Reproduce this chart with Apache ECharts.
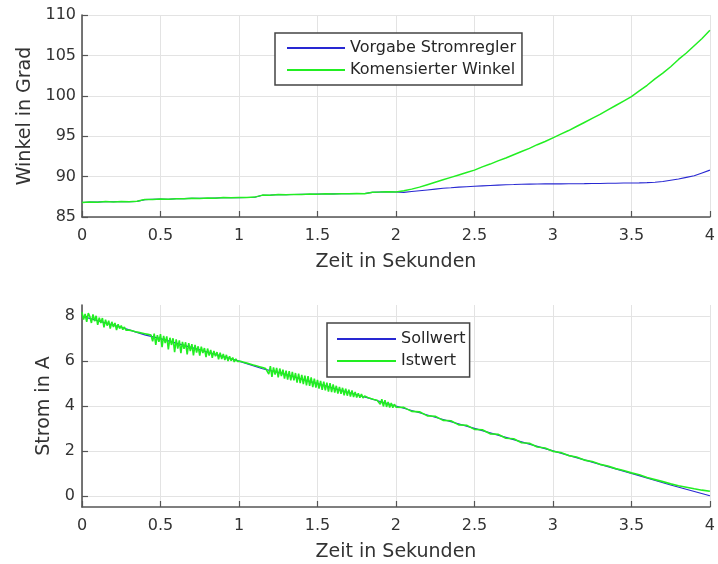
<!DOCTYPE html>
<html>
<head>
<meta charset="utf-8">
<script src="https://cdn.jsdelivr.net/npm/echarts@6/dist/echarts.min.js"></script>
<style>
  html, body { margin: 0; padding: 0; background: #fff; }
  #main { width: 718px; height: 564px; }
</style>
</head>
<body>
<div id="main"></div>
<script>
// oberes Diagramm: Winkel
var tWinkel = [0.00,0.05,0.10,0.15,0.20,0.25,0.30,0.35,0.40,0.45,0.50,0.55,0.60,0.65,0.70,0.75,0.80,0.85,0.90,0.95,
  1.00,1.05,1.10,1.15,1.20,1.25,1.30,1.35,1.40,1.45,1.50,1.55,1.60,1.65,1.70,1.75,1.80,1.85,1.90,1.95,
  2.00,2.05,2.10,2.15,2.20,2.25,2.30,2.35,2.40,2.45,2.50,2.55,2.60,2.65,2.70,2.75,2.80,2.85,2.90,2.95,
  3.00,3.05,3.10,3.15,3.20,3.25,3.30,3.35,3.40,3.45,3.50,3.55,3.60,3.65,3.70,3.75,3.80,3.85,3.90,3.95,4.00];
var vorgabe = [86.80,86.85,86.85,86.90,86.88,86.90,86.90,86.92,87.15,87.20,87.22,87.20,87.25,87.28,87.30,87.30,87.32,87.35,87.38,87.40,
  87.40,87.42,87.45,87.70,87.72,87.75,87.75,87.78,87.80,87.82,87.85,87.85,87.86,87.87,87.88,87.90,87.90,88.05,88.10,88.12,
  88.10,88.05,88.15,88.25,88.35,88.45,88.55,88.62,88.70,88.75,88.80,88.85,88.90,88.95,89.00,89.02,89.05,89.07,89.08,89.10,
  89.10,89.10,89.12,89.12,89.13,89.15,89.15,89.17,89.18,89.20,89.20,89.22,89.25,89.30,89.40,89.55,89.70,89.90,90.10,90.45,90.80];
var kompensiert = [86.78,86.86,86.83,86.91,86.87,86.92,86.89,86.94,87.17,87.18,87.24,87.19,87.27,87.26,87.32,87.28,87.34,87.33,87.40,87.38,
  87.42,87.40,87.46,87.71,87.70,87.77,87.74,87.80,87.78,87.84,87.83,87.87,87.85,87.89,87.87,87.91,87.89,88.06,88.09,88.13,
  88.10,88.25,88.45,88.70,89.00,89.30,89.60,89.90,90.20,90.50,90.80,91.20,91.55,91.95,92.30,92.70,93.10,93.50,93.95,94.35,
  94.80,95.25,95.70,96.20,96.70,97.20,97.70,98.25,98.80,99.35,99.90,100.60,101.30,102.10,102.80,103.60,104.50,105.30,106.20,107.10,108.10];

// unteres Diagramm: Strom
var tSoll = [0,0.25,0.40,0.50,0.75,1.00,1.15,1.25,1.50,1.75,2.00,2.25,2.50,2.75,3.00,3.25,3.50,3.75,4.00];
var sollwert = [8.00,7.50,7.17,7.00,6.50,6.00,5.66,5.50,5.00,4.50,4.00,3.50,3.00,2.50,2.00,1.50,1.00,0.48,0.00];
var tIst = [
  0.00,0.01,0.02,0.03,0.04,0.05,0.06,0.07,0.08,0.09,0.10,0.11,0.12,0.13,0.14,0.15,0.16,0.17,0.18,0.19,
  0.20,0.21,0.22,0.23,0.24,0.25,0.26,0.27,0.28,0.29,0.30,0.31,0.32,0.33,0.34,0.35,0.36,0.37,0.38,0.39,
  0.40,0.41,0.42,0.43,0.44,0.45,0.46,0.47,0.48,0.49,0.50,0.51,0.52,0.53,0.54,0.55,0.56,0.57,0.58,0.59,
  0.60,0.61,0.62,0.63,0.64,0.65,0.66,0.67,0.68,0.69,0.70,0.71,0.72,0.73,0.74,0.75,0.76,0.77,0.78,0.79,
  0.80,0.81,0.82,0.83,0.84,0.85,0.86,0.87,0.88,0.89,0.90,0.91,0.92,0.93,0.94,0.95,0.96,0.97,0.98,0.99,
  1.00,1.01,1.02,1.03,1.04,1.05,1.06,1.07,1.08,1.09,1.10,1.11,1.12,1.13,1.14,1.15,1.16,1.17,1.18,1.19,
  1.20,1.21,1.22,1.23,1.24,1.25,1.26,1.27,1.28,1.29,1.30,1.31,1.32,1.33,1.34,1.35,1.36,1.37,1.38,1.39,
  1.40,1.41,1.42,1.43,1.44,1.45,1.46,1.47,1.48,1.49,1.50,1.51,1.52,1.53,1.54,1.55,1.56,1.57,1.58,1.59,
  1.60,1.61,1.62,1.63,1.64,1.65,1.66,1.67,1.68,1.69,1.70,1.71,1.72,1.73,1.74,1.75,1.76,1.77,1.78,1.79,
  1.80,1.81,1.82,1.83,1.84,1.85,1.86,1.87,1.88,1.89,1.90,1.91,1.92,1.93,1.94,1.95,1.96,1.97,1.98,1.99,
  2.00,
  2.05,2.10,2.15,2.20,2.25,2.30,2.35,2.40,2.45,2.50,2.55,2.60,2.65,2.70,2.75,2.80,2.85,2.90,2.95,3.00,
  3.05,3.10,3.15,3.20,3.25,3.30,3.35,3.40,3.45,3.50,3.55,3.60,3.65,3.70,3.75,3.80,3.85,3.90,3.95,4.00];
var istwert = [
  8.18,7.85,8.10,7.75,8.14,7.98,7.70,8.08,7.78,8.02,7.62,7.93,7.70,7.92,7.50,7.85,7.58,7.80,7.45,7.75,
  7.52,7.70,7.38,7.64,7.45,7.58,7.40,7.52,7.38,7.46,7.38,7.39,7.35,7.35,7.31,7.31,7.28,7.27,7.25,7.23,
  7.22,7.20,7.19,7.17,7.16,6.88,7.22,6.72,7.16,6.86,7.20,6.62,7.12,6.80,7.10,6.52,7.04,6.72,7.02,6.40,
  6.97,6.56,6.92,6.35,6.86,6.55,6.84,6.30,6.80,6.45,6.76,6.26,6.72,6.38,6.66,6.25,6.64,6.36,6.58,6.18,
  6.56,6.25,6.50,6.15,6.45,6.22,6.40,6.08,6.37,6.09,6.32,6.05,6.28,6.00,6.22,6.02,6.16,5.96,6.10,5.99,
  6.03,5.99,5.97,5.95,5.93,5.91,5.89,5.87,5.85,5.83,5.81,5.79,5.77,5.75,5.73,5.71,5.69,5.67,5.74,5.42,
  5.78,5.30,5.72,5.40,5.70,5.28,5.67,5.33,5.62,5.22,5.58,5.18,5.55,5.14,5.52,5.14,5.47,5.04,5.44,5.02,
  5.39,4.97,5.35,4.92,5.33,4.90,5.27,4.84,5.22,4.82,5.16,4.77,5.12,4.72,5.08,4.70,5.04,4.64,5.02,4.62,
  4.96,4.60,4.90,4.55,4.85,4.54,4.81,4.48,4.77,4.46,4.73,4.42,4.69,4.40,4.62,4.38,4.57,4.37,4.53,4.36,
  4.45,4.37,4.38,4.35,4.33,4.31,4.29,4.28,4.26,4.25,4.08,4.30,3.98,4.26,3.96,4.18,3.93,4.13,3.92,4.08,
  3.95,
  3.94,3.76,3.74,3.56,3.54,3.36,3.34,3.16,3.14,2.96,2.94,2.76,2.74,2.56,2.54,2.36,2.34,2.17,2.13,1.98,
  1.93,1.79,1.73,1.59,1.53,1.40,1.33,1.21,1.13,1.02,0.94,0.81,0.72,0.63,0.53,0.45,0.38,0.31,0.25,0.20];

var xTicks = [0, 0.5, 1, 1.5, 2, 2.5, 3, 3.5, 4];
var stromTicks = [0, 2, 4, 6, 8];

var blau = '#2828d2';
var gruen = '#22ee22';
var textFarbe = '#333333';
var achsFarbe = '#555555';
var gitterFarbe = '#e3e3e3';
var schrift = '"DejaVu Sans", sans-serif';

function pairs(t, v) {
  return t.map(function (x, i) { return [x, v[i]]; });
}

function xAchse(idx) {
  return {
    type: 'value', gridIndex: idx, min: 0, max: 4, interval: 0.5,
    name: 'Zeit in Sekunden', nameLocation: 'middle', nameGap: 36,
    nameTextStyle: { fontSize: 19, color: textFarbe, fontFamily: schrift },
    axisLine: { show: true, onZero: false, lineStyle: { color: achsFarbe, width: 1.6 } },
    axisTick: { show: true, inside: true, length: 6, lineStyle: { color: achsFarbe, width: 1.2 } },
    axisLabel: { fontSize: 16, color: textFarbe, fontFamily: schrift, margin: 11 },
    splitLine: { show: true, lineStyle: { color: gitterFarbe, width: 1 } }
  };
}

var chart = echarts.init(document.getElementById('main'));
var option = {
  animation: false,
  backgroundColor: '#fff',
  grid: [
    { left: 82, top: 15, width: 631, height: 202 },
    { left: 82, top: 305, width: 631, height: 202 }
  ],
  legend: [
    {
      data: ['Vorgabe Stromregler', 'Komensierter Winkel'],
      orient: 'vertical', left: 275, top: 33,
      icon: 'rect', itemWidth: 58, itemHeight: 2, itemGap: 6,
      padding: [7, 6, 7, 12],
      borderColor: '#444', borderWidth: 1.5, backgroundColor: '#fff',
      textStyle: { fontSize: 16, color: '#262626', fontFamily: schrift, lineHeight: 16 }
    },
    {
      data: ['Sollwert', 'Istwert'],
      orient: 'vertical', left: 327, top: 323,
      icon: 'rect', itemWidth: 59, itemHeight: 2, itemGap: 6,
      padding: [8, 4, 8, 10],
      borderColor: '#444', borderWidth: 1.5, backgroundColor: '#fff',
      textStyle: { fontSize: 16, color: '#262626', fontFamily: schrift, lineHeight: 16 }
    }
  ],
  xAxis: [xAchse(0), xAchse(1)],
  yAxis: [
    {
      type: 'value', gridIndex: 0, min: 85, max: 110, interval: 5,
      name: 'Winkel in Grad', nameLocation: 'middle', nameGap: 46,
      nameTextStyle: { fontSize: 19, color: textFarbe, fontFamily: schrift },
      axisLine: { show: true, lineStyle: { color: achsFarbe, width: 1.6 } },
      axisTick: { show: true, inside: true, length: 6, lineStyle: { color: achsFarbe, width: 1.2 } },
      axisLabel: { fontSize: 16, color: textFarbe, fontFamily: schrift, margin: 6 },
      splitLine: { show: true, lineStyle: { color: gitterFarbe, width: 1 } }
    },
    {
      type: 'value', gridIndex: 1, min: -0.5, max: 8.5,
      name: 'Strom in A', nameLocation: 'middle', nameGap: 28,
      nameTextStyle: { fontSize: 19, color: textFarbe, fontFamily: schrift },
      axisLine: { show: true, lineStyle: { color: achsFarbe, width: 1.6 } },
      axisTick: { show: true, inside: true, length: 6, customValues: stromTicks, lineStyle: { color: achsFarbe, width: 1.2 } },
      axisLabel: { fontSize: 16, color: textFarbe, fontFamily: schrift, margin: 7, customValues: stromTicks },
      splitLine: { show: true, lineStyle: { color: gitterFarbe, width: 1 } }
    }
  ],
  series: [
    {
      name: 'Vorgabe Stromregler', type: 'line', xAxisIndex: 0, yAxisIndex: 0, z: 2,
      data: pairs(tWinkel, vorgabe), showSymbol: false, color: blau,
      lineStyle: { width: 1.1 }
    },
    {
      name: 'Komensierter Winkel', type: 'line', xAxisIndex: 0, yAxisIndex: 0, z: 3,
      data: pairs(tWinkel, kompensiert), showSymbol: false, color: gruen,
      lineStyle: { width: 1.5 }
    },
    {
      name: 'Sollwert', type: 'line', xAxisIndex: 1, yAxisIndex: 1, z: 2,
      data: pairs(tSoll, sollwert), showSymbol: false, color: blau,
      lineStyle: { width: 1.2 }
    },
    {
      name: 'Istwert', type: 'line', xAxisIndex: 1, yAxisIndex: 1, z: 3,
      data: pairs(tIst, istwert), showSymbol: false, color: gruen,
      lineStyle: { width: 1.6 }
    }
  ]
};
chart.setOption(option);
</script>
</body>
</html>
